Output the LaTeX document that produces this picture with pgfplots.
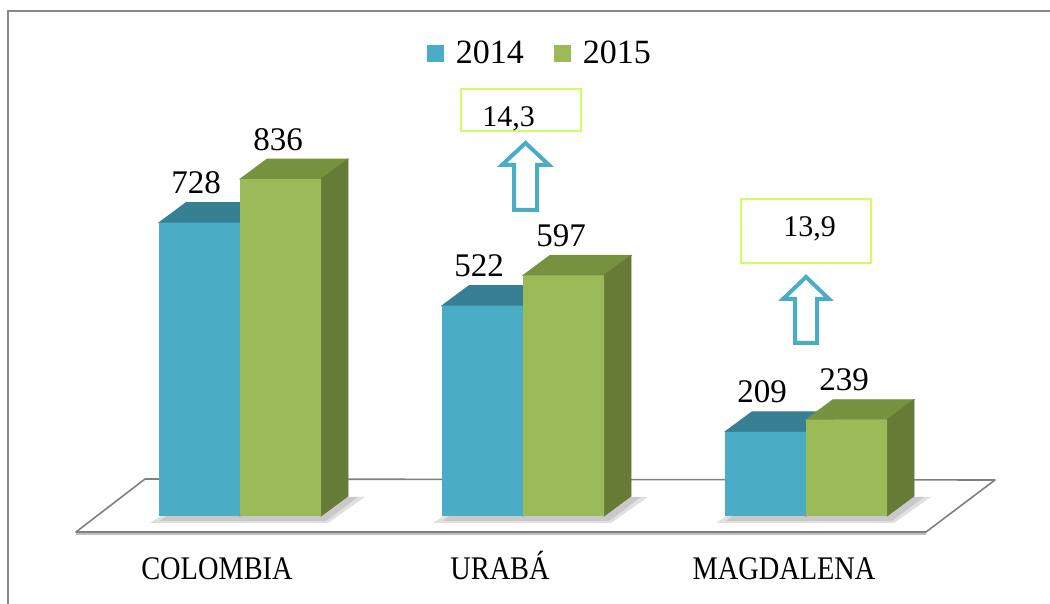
\documentclass[border=0pt]{standalone}
\usepackage{pgfplots}
\pgfplotsset{compat=1.18}
\usepackage{pgfplotstable}
\usepackage{fontspec}
\setmainfont{Liberation Serif}
\newfontfamily\catfont[FakeStretch=0.86]{Liberation Serif}
\definecolor{c14}{HTML}{4BACC6}
\definecolor{c14top}{HTML}{378094}
\definecolor{c14side}{HTML}{2F6F80}
\definecolor{c15}{HTML}{9BBB59}
\definecolor{c15top}{HTML}{77923F}
\definecolor{c15side}{HTML}{657B36}
\definecolor{boxc}{HTML}{CCFF66}
\definecolor{framec}{HTML}{888888}
\pgfdeclareplotmark{empty}{}
\pgfplotstableread{
x v
0 728
1 522
2 209
}\dataA
\pgfplotstableread{
x v
0 836
1 597
2 239
}\dataB
\newcommand\faces[4]{%
 \addplot[forget plot, only marks, mark=empty, scatter, clip marker paths=true,
   visualization depends on={\thisrow{v}\as\val},
   scatter/@pre marker code/.code={%
     \pgfmathsetmacro\hb{10-\val*0.2015}%
     \pgfmathsetmacro\hc{-\val*0.2015}%
     \fill[#3] (-20.25pt,0pt) -- (20.25pt,0pt) -- (33.75pt,10pt) -- (-6.75pt,10pt) -- cycle;
     \fill[#4] (20.25pt,0pt) -- (33.75pt,10pt) -- (33.75pt,\hb pt) -- (20.25pt,\hc pt) -- cycle;
     \begin{scope}},
   scatter/@post marker code/.code={\end{scope}}]
   table[x expr=\thisrow{x}+#2, y=v] {#1};
}
\begin{document}
\begin{tikzpicture}
\useasboundingbox (0,0) rectangle (525pt,302pt);
\begin{scope}[x=0.5pt,y=-0.5pt,shift={(0,302pt)}]
  % floor
  \fill[white] (145,479) -- (995,480) -- (926,532) -- (76,532) -- cycle;
  \draw[black!25, line width=1.2pt] (76,533.5) -- (926,533.5);
  \draw[black!50, line width=0.8pt, line join=round] (145,479) -- (995,480) -- (926,532) -- (76,532) -- cycle;
  % shadows
  \foreach \s in {0,283,566}{
    \fill[black, opacity=0.12] ({150+\s},523) -- ({328+\s},523) -- ({365+\s},497) -- ({190+\s},497) -- cycle;
    \fill[black, opacity=0.10] ({160+\s},521) -- ({326+\s},521) -- ({358+\s},497) -- ({190+\s},497) -- cycle;
  }
\end{scope}
\begin{axis}[at={(0,0)}, anchor=south west, scale only axis,
  width=525pt, height=302pt,
  xmin=-0.848057, xmax=2.862191, ymin=-218.36, ymax=1280.4,
  hide axis, clip=false, clip marker paths=true,
  /pgf/number format/assume math mode=true,
  legend columns=2,
  legend style={at={(0.5152,0.9106)}, anchor=center, draw=none, fill=none,
    font=\fontsize{17}{19}\selectfont, inner sep=0pt,
    /tikz/every odd column/.append style={column sep=4pt},
    /tikz/every even column/.append style={column sep=13pt}},
  every node near coord/.append style={anchor=base, inner sep=0pt, yshift=14.5pt,
    font=\fontsize{16.5}{18}\selectfont, text=black},
]
\faces{\dataA}{-0.1431}{c14top}{c14side}
\addplot[ybar, bar width=0.2862, bar shift=-0.1431, fill=c14, draw=none,
  nodes near coords,
  every node near coord/.append style={xshift=-22pt},
  legend image code/.code={\fill[c14] (0pt,-4.25pt) rectangle (8.5pt,4.25pt);}]
  table[x=x, y=v] {\dataA};
\addlegendentry{2014}
\faces{\dataB}{0.1431}{c15top}{c15side}
\addplot[ybar, bar width=0.2862, bar shift=0.1431, fill=c15, draw=none,
  nodes near coords,
  every node near coord/.append style={xshift=19pt},
  legend image code/.code={\fill[c15] (0pt,-4.25pt) rectangle (8.5pt,4.25pt);}]
  table[x=x, y=v] {\dataB};
\addlegendentry{2015}
\end{axis}
\begin{scope}[x=0.5pt,y=-0.5pt,shift={(0,302pt)}]
  % boxes
  \draw[boxc, line width=1pt] (461,89) rectangle (581,131);
  \node[anchor=base west, inner sep=0pt, font=\fontsize{15}{17}\selectfont] at (482,127) {14,3};
  \draw[boxc, line width=1pt] (741,199) rectangle (871,263);
  \node[anchor=base west, inner sep=0pt, font=\fontsize{15}{17}\selectfont] at (783,237) {13,9};
  % arrows
  \draw[c14, line width=2pt, line join=miter] (525.5,143) -- (502,165) -- (514,165) -- (514,210) -- (537,210) -- (537,165) -- (549,165) -- cycle;
  \draw[c14, line width=2pt, line join=miter] (806,277) -- (783,299) -- (795,299) -- (795,343) -- (817,343) -- (817,299) -- (829,299) -- cycle;
  % category labels
  \node[anchor=base, inner sep=0pt, font=\catfont\fontsize{16.5}{18}\selectfont] at (217,580) {COLOMBIA};
  \node[anchor=base, inner sep=0pt, font=\catfont\fontsize{16.5}{18}\selectfont] at (500,580) {URABÁ};
  \node[anchor=base, inner sep=0pt, font=\catfont\fontsize{16.5}{18}\selectfont] at (784,580) {MAGDALENA};
  % frame
  \draw[framec, line width=1.2pt] (8,606) -- (8,11) -- (1052,11);
\end{scope}
\end{tikzpicture}
\end{document}
